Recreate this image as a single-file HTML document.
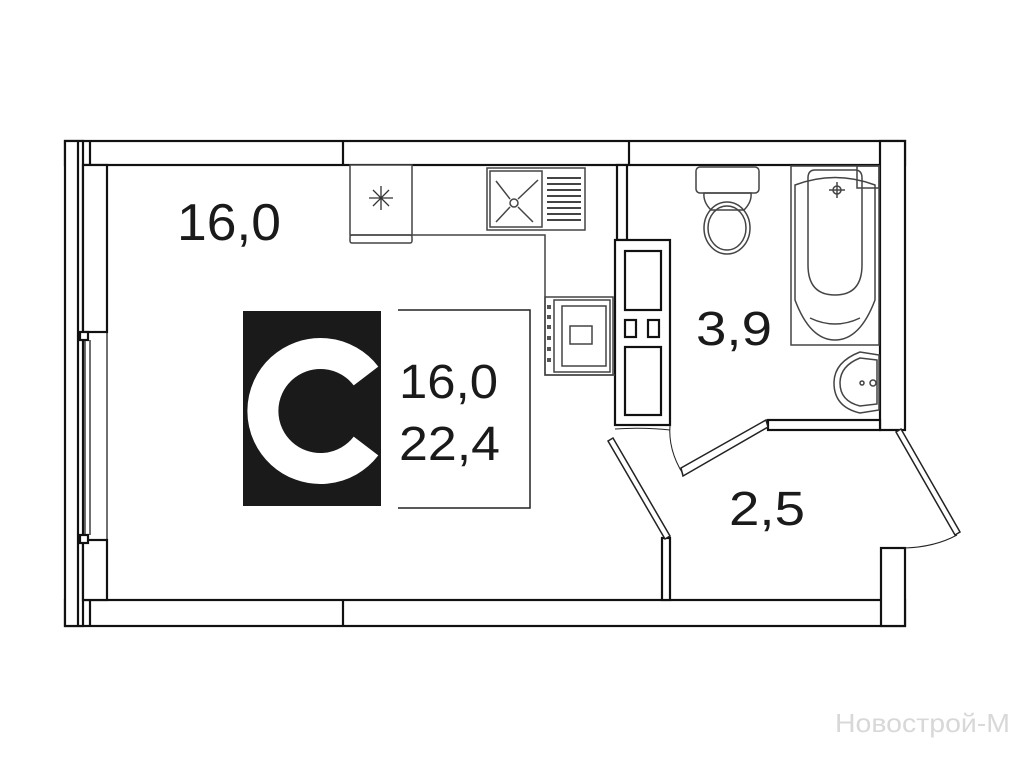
<!DOCTYPE html>
<html><head><meta charset="utf-8"><style>
html,body{margin:0;padding:0;background:#fff;}
svg{display:block;}
text{font-family:"Liberation Sans","DejaVu Sans",sans-serif;}
</style></head><body>
<svg width="1024" height="768" viewBox="0 0 1024 768" xmlns="http://www.w3.org/2000/svg">
<g fill="#fff" stroke="#111" stroke-width="2.2">
  <rect x="65" y="141" width="840" height="24"/>
  <line x1="343" y1="141" x2="343" y2="165"/>
  <line x1="629" y1="141" x2="629" y2="165"/>
  <line x1="90" y1="141" x2="90" y2="165"/>
  <rect x="65" y="600" width="840" height="26"/>
  <line x1="343" y1="600" x2="343" y2="626"/>
  <line x1="90" y1="600" x2="90" y2="626"/>
  <rect x="65" y="141" width="18" height="485"/>
  <rect x="83" y="165" width="24" height="167"/>
  <rect x="83" y="540" width="24" height="60"/>
  <line x1="78" y1="141" x2="78" y2="626"/>
  <rect x="80" y="332" width="8" height="8"/>
  <rect x="80" y="535" width="8" height="8"/>
  <line x1="85" y1="340" x2="85" y2="535" stroke-width="1.2"/>
  <line x1="90" y1="340" x2="90" y2="535" stroke-width="1.2"/>
  <line x1="107" y1="332" x2="107" y2="540" stroke-width="1.2"/>
  <rect x="880" y="141" width="25" height="289"/>
  <rect x="881" y="548" width="24" height="78"/>
  <rect x="768" y="420" width="112" height="10"/>
  <rect x="617" y="165" width="10" height="75"/>
  <rect x="615" y="240" width="55" height="185"/>
  <rect x="625" y="251" width="36" height="59"/>
  <rect x="625" y="320" width="11" height="17"/>
  <rect x="648" y="320" width="11" height="17"/>
  <rect x="625" y="347" width="36" height="68"/>
  <rect x="662" y="538" width="8" height="62"/>
</g>
<g fill="none" stroke="#222" stroke-width="1.5">
  <polygon points="608,441 613,438 670,536 665,539" fill="#fff"/>
  <polygon points="681,468 683,476 768,427 766,420" fill="#fff"/>
  <polygon points="896,432 901,429 960,532 955,535" fill="#fff"/>
  <path d="M615,429 Q645,427 670,430" stroke-width="1"/>
  <path d="M670,425 Q668,450 683,474" stroke-width="1"/>
  <path d="M905,548 Q935,547 957,535" stroke-width="1"/>
</g>
<g fill="none" stroke="#444" stroke-width="1.5">
  <polyline points="412,235 545,235 545,375 615,375"/>
  <rect x="350" y="165" width="62" height="70" fill="#fff"/>
  <rect x="350" y="235" width="62" height="8" rx="2"/>
  <g stroke="#333" stroke-width="1.3">
    <line x1="369" y1="198" x2="393" y2="198"/>
    <line x1="381" y1="186" x2="381" y2="210"/>
    <line x1="373" y1="190" x2="389" y2="206"/>
    <line x1="389" y1="190" x2="373" y2="206"/>
  </g>
  <rect x="487" y="168" width="98" height="62"/>
  <rect x="490" y="171" width="52" height="56"/>
  <g stroke-width="2">
    <line x1="547" y1="178" x2="581" y2="178"/><line x1="547" y1="184" x2="581" y2="184"/>
    <line x1="547" y1="190" x2="581" y2="190"/><line x1="547" y1="196" x2="581" y2="196"/>
    <line x1="547" y1="202" x2="581" y2="202"/><line x1="547" y1="208" x2="581" y2="208"/>
    <line x1="547" y1="214" x2="581" y2="214"/><line x1="547" y1="220" x2="581" y2="220"/>
  </g>
  <circle cx="514" cy="203" r="4"/>
  <line x1="496" y1="181" x2="510" y2="199"/><line x1="518" y1="207" x2="533" y2="222"/>
  <line x1="496" y1="222" x2="510" y2="207"/><line x1="518" y1="199" x2="538" y2="180"/>
  <rect x="545" y="297" width="68" height="78"/>
  <rect x="554" y="300" width="56" height="72"/>
  <rect x="562" y="306" width="44" height="60"/>
  <rect x="570" y="326" width="22" height="18"/>
  <g fill="#555" stroke="none">
    <rect x="547" y="305" width="4" height="4"/><rect x="547" y="315" width="4" height="4"/>
    <rect x="547" y="325" width="4" height="4"/><rect x="547" y="336" width="4" height="4"/>
    <rect x="547" y="347" width="4" height="4"/><rect x="547" y="358" width="4" height="4"/>
  </g>
</g>
<g fill="none" stroke="#444" stroke-width="1.5">
  <rect x="696" y="167" width="63" height="26" rx="4"/>
  <path d="M704,193 L751,193 Q752,202 744,210 L711,210 Q703,202 704,193Z"/>
  <ellipse cx="727" cy="228" rx="23" ry="26"/>
  <ellipse cx="727" cy="228" rx="19" ry="22"/>
  <rect x="791" y="166" width="88" height="179"/>
  <path d="M795,185 Q835,170 875,185 L875,300 Q860,340 835,340 Q810,340 795,300Z"/>
  <path d="M808,178 Q808,170 815,170 L855,170 Q862,170 862,178 L862,265 Q862,295 835,295 Q808,295 808,265Z"/>
  <path d="M810,318 Q835,330 860,318"/>
  <rect x="857" y="166" width="22" height="22"/>
  <circle cx="837" cy="190" r="4"/>
  <line x1="837" y1="182" x2="837" y2="198"/><line x1="829" y1="190" x2="845" y2="190"/>
  <path d="M879,355 L860,352 Q834,362 834,383 Q834,407 860,413 L879,410Z"/>
  <path d="M877,360 L860,358 Q840,366 840,383 Q840,401 860,406 L877,404Z"/>
  <circle cx="862" cy="383" r="2"/><circle cx="873" cy="383" r="3"/>
</g>
<rect x="243" y="311" width="138" height="195" fill="#1a1a1a"/>
<path d="M366,376 A57.5,57.5 0 1 0 366,446" fill="none" stroke="#fff" stroke-width="31"/>
<polyline points="398,310 530,310 530,508 398,508" fill="none" stroke="#222" stroke-width="1.5"/>
<g fill="#1a1a1a">
  <text x="399" y="398" font-size="48" textLength="99" lengthAdjust="spacingAndGlyphs">16,0</text>
  <text x="399" y="460" font-size="48" textLength="101" lengthAdjust="spacingAndGlyphs">22,4</text>
  <text x="177" y="240" font-size="52" textLength="104" lengthAdjust="spacingAndGlyphs">16,0</text>
  <text x="696" y="345" font-size="48" textLength="76" lengthAdjust="spacingAndGlyphs">3,9</text>
  <text x="729" y="525" font-size="48" textLength="76" lengthAdjust="spacingAndGlyphs">2,5</text>
</g>
<text x="835" y="732" font-size="26" fill="#d8d8d8" textLength="175" lengthAdjust="spacingAndGlyphs">Новострой-М</text>
</svg>
</body></html>
